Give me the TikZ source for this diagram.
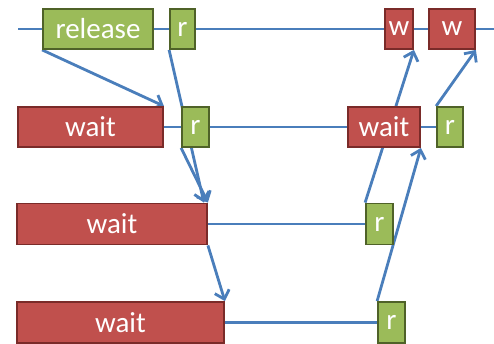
\documentclass[tikz,border=0pt]{standalone}
\usepackage{fontspec}
\setmainfont{Carlito}
\usetikzlibrary{arrows.meta,backgrounds,calc}
\definecolor{gfill}{HTML}{9BBB59}
\definecolor{gdraw}{HTML}{4F6228}
\definecolor{rfill}{HTML}{C0504D}
\definecolor{rdraw}{HTML}{7A2B29}
\definecolor{lblue}{HTML}{4A7EBB}
\tikzset{
  box/.style={line width=1.8pt, inner sep=0pt, text=white,
    font=\fontsize{29}{30}\selectfont, minimum height=40pt},
  gbox/.style={box, fill=gfill, draw=gdraw},
  rbox/.style={box, fill=rfill, draw=rdraw},
  tl/.style={draw=lblue, line width=2.8pt},
  arr/.style={tl, -{Straight Barb[length=8pt,width=15pt,line width=2.8pt]}}
}
\begin{document}
\begin{tikzpicture}[x=1pt,y=-1pt]
\useasboundingbox (0,0) rectangle (494,343);
% row 1
\node[gbox, minimum width=110pt] (rel) at (98,29) {release};
\node[gbox, minimum width=25pt] (r1) at (182.5,29) {r};
\node[rbox, minimum width=28pt] (w1) at (399,29) {w};
\node[rbox, minimum width=46pt] (w2) at (452,29) {w};
\coordinate (L1) at (18,29);
\coordinate (R1) at (494,29);
% row 2
\node[rbox, minimum width=145pt] (wa2) at (90.5,127) {wait};
\node[gbox, minimum width=27pt] (r2) at (195.5,127) {r};
\node[rbox, minimum width=72pt] (wb2) at (384,127) {wait};
\node[gbox, minimum width=26pt] (r2b) at (450,127) {r};
% row 3
\node[rbox, minimum width=190pt, minimum height=41pt] (wa3) at (112,224) {wait};
\node[gbox, minimum width=27pt, minimum height=41pt] (r3) at (379.5,224) {r};
% row 4
\node[rbox, minimum width=207pt, minimum height=41pt] (wa4) at (120.5,322.5) {wait};
\node[gbox, minimum width=27pt, minimum height=41pt] (r4) at (391.5,322.5) {r};
\begin{pgfonlayer}{background}
  \draw[tl] (L1) -- (R1);
  \draw[tl] (wa2.east) -- (r2b.west);
  \draw[tl] (wa3.east) -- (r3.west);
  \draw[tl] (wa4.east) -- (r4.west);
  \draw[arr] (rel.south west) -- (wa2.north east);
  \draw[arr] (r1.south west) -- ($(wa3.north east)+(-4,0)$);
  \draw[arr] (r2.south west) -- (wa3.north east);
  \draw[arr] (wa3.south east) -- (wa4.north east);
  \draw[arr] (r3.north west) -- (w1.south east);
  \draw[arr] (r4.north west) -- (wb2.south east);
  \draw[arr] (r2b.north west) -- (w2.south east);
\end{pgfonlayer}
\end{tikzpicture}
\end{document}
